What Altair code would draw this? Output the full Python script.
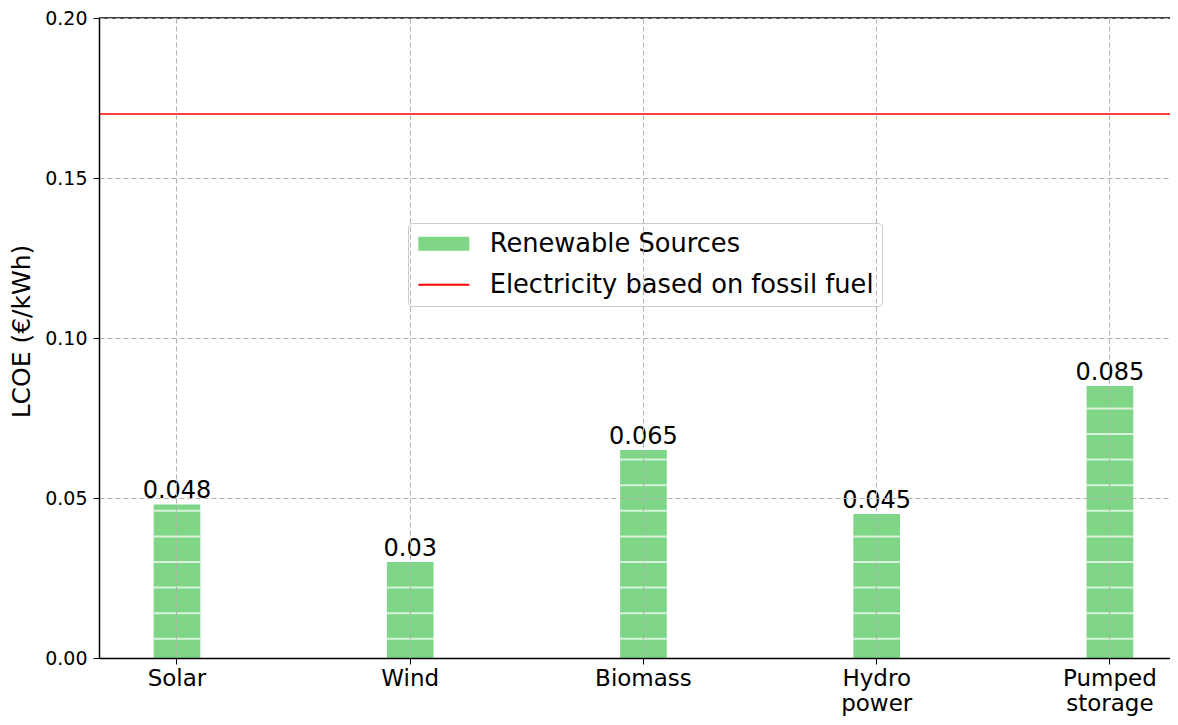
import altair as alt
import pandas as pd

# ---- data ----
categories = ["Solar", "Wind", "Biomass", "Hydro power", "Pumped storage"]
lcoe = [0.048, 0.03, 0.065, 0.045, 0.085]
bar_labels = ["0.048", "0.03", "0.065", "0.045", "0.085"]
fossil_lcoe = 0.17
series_names = ["Renewable Sources", "Electricity based on fossil fuel"]
y_ticks = [0.0, 0.05, 0.10, 0.15, 0.20]

# ---- style ----
W, H = 1071, 640
GREEN = "#7fd687"
RED = "#ff0000"
FONT = "DejaVu Sans"
HATCH_START, HATCH_STEP = 0.006, 0.008  # hatch pattern spacing (style)

bars = pd.DataFrame({"cat": categories, "val": lcoe, "lab": bar_labels})
fossil = pd.DataFrame({"val": [fossil_lcoe]})
legend_src = pd.DataFrame({"series": series_names})

hatch_rows = []
for c, v in zip(categories, lcoe):
    k = 0
    while HATCH_START + k * HATCH_STEP < v - 0.001:
        hatch_rows.append({"cat": c, "y": HATCH_START + k * HATCH_STEP})
        k += 1
hatch = pd.DataFrame(hatch_rows)

grid_kw = dict(grid=True, gridColor="#b0b0b0", gridDash=[5, 3], gridWidth=1, zindex=1)

x_scale = alt.Scale(domain=categories, paddingInner=0.8, paddingOuter=0.196, align=0.598)
x_axis = alt.Axis(title=None, labelAngle=0, labelExpr="split(datum.label, ' ')",
                  labelFontSize=23, labelColor="black", labelLineHeight=25,
                  labelPadding=3, tickColor="black", tickSize=6, domainColor="black",
                  domainWidth=1.5, **grid_kw)
y_scale = alt.Scale(domain=[0, 0.2], nice=False)
y_axis = alt.Axis(title="LCOE (€/kWh)", values=y_ticks, format=".2f",
                  labelFontSize=19, labelColor="black", labelPadding=6,
                  tickColor="black", tickSize=6, domainColor="black", domainWidth=1.5,
                  titleFontSize=25, titleFontWeight="normal", titleColor="black",
                  titleX=-65, titleY=313, titleBaseline="bottom", titleAlign="center",
                  **grid_kw)

color_scale = alt.Scale(domain=series_names, range=[GREEN, RED])
width_scale = alt.Scale(domain=series_names, range=[14, 2])
legend = alt.Legend(
    title=None, orient="none", legendX=309, legendY=205,
    labelFontSize=25.7, labelColor="black", labelFont=FONT, labelLimit=600,
    symbolType="M-8.5,0H8.5", symbolSize=36, symbolOffset=15, labelOffset=33,
    rowPadding=-10, symbolOpacity=1,
    padding=8, strokeColor="#cccccc", fillColor="white", cornerRadius=4,
)

bar_layer = alt.Chart(bars).mark_bar(color=GREEN).encode(
    x=alt.X("cat:N", scale=x_scale, axis=x_axis, sort=categories),
    y=alt.Y("val:Q", scale=y_scale, axis=y_axis),
)
hatch_layer = alt.Chart(hatch).mark_tick(color="white", thickness=2, size=47).encode(
    x=alt.X("cat:N", sort=categories), y=alt.Y("y:Q"),
)
text_layer = alt.Chart(bars).mark_text(baseline="alphabetic", dy=-6, fontSize=24,
                                       color="black", font=FONT).encode(
    x=alt.X("cat:N", sort=categories), y=alt.Y("val:Q"), text="lab:N",
)
fossil_layer = alt.Chart(fossil).mark_rule(color=RED, strokeWidth=1.5).encode(
    y=alt.Y("val:Q"),
)
# helper layer that only feeds the legend (its points sit outside the clipped view)
legend_layer = alt.Chart(legend_src).mark_point(filled=False, clip=True).encode(
    x=alt.value(-200), y=alt.value(-200),
    color=alt.Color("series:N", scale=color_scale, legend=legend),
    strokeWidth=alt.StrokeWidth("series:N", scale=width_scale, legend=legend),
)
top_spine = alt.Chart(fossil).mark_rule(color="black", strokeWidth=1.5).encode(
    x=alt.value(0), x2=alt.value(W), y=alt.value(0),
)

chart = alt.layer(bar_layer, hatch_layer, text_layer, fossil_layer, legend_layer,
                  top_spine).properties(
    width=W, height=H,
    autosize=alt.AutoSizeParams(type="none"),
    padding={"left": 91, "top": 10, "right": 0, "bottom": 59},
).configure(font=FONT).configure_view(stroke=None)

chart.save("out.html", embed_options={"renderer": "svg", "actions": False})
